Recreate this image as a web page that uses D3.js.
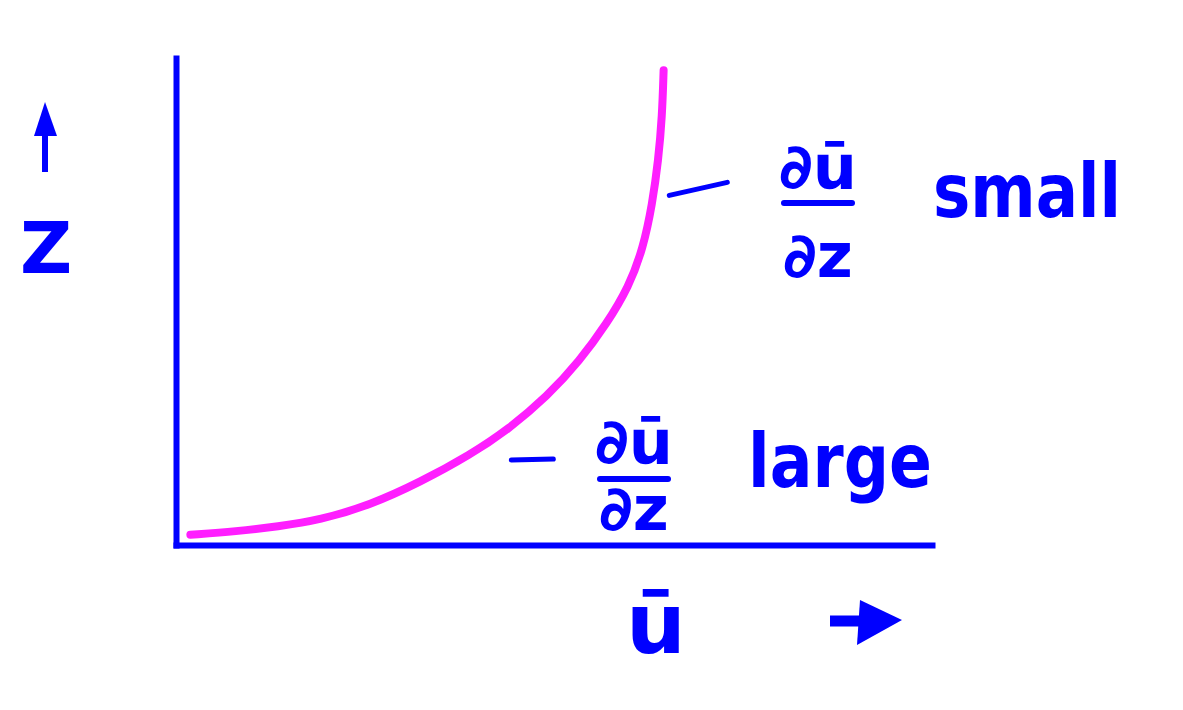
<!DOCTYPE html>
<html>
<head>
<meta charset="utf-8">
<script src="https://cdn.jsdelivr.net/npm/d3@7"></script>
<style>
  html, body { margin: 0; padding: 0; background: #fff; }
  svg { display: block; }
  text { font-family: "DejaVu Sans", sans-serif; font-weight: bold; fill: #0000ff; }
</style>
</head>
<body>
<svg id="chart" width="1183" height="710"></svg>
<script>
// ---- data ----
const profileU = [1.9, 8.0, 13.5, 19.0, 25.7, 32.3, 38.9, 44.0, 49.1, 53.4, 57.0, 59.9, 61.8, 63.0, 63.8, 64.3, 64.5];
const profileZ = [2.1, 2.8, 3.8, 5.1, 8.2, 12.9, 18.5, 23.8, 30.5, 37.8, 45.5, 53.0, 61.0, 70.0, 79.0, 88.0, 97.5];
const xLabel = "ū";
const yLabel = "Z";
const upperNote = {num: "∂ū", den: "∂z", word: "small", u: 63.4, z: 72};
const lowerNote = {num: "∂ū", den: "∂z", word: "large", u: 43.3, z: 16};

const svg = d3.select("#chart");
const blue = "#0000ff", magenta = "#ff1eff";

const x = d3.scaleLinear().domain([0, 100]).range([176, 932]);
const y = d3.scaleLinear().domain([0, 100]).range([545, 58]);

// axes (no ticks, drawn as thick hand-drawn lines)
const xAxis = svg.append("g").attr("transform", `translate(0,${y(0)})`)
  .call(d3.axisBottom(x).tickValues([]).tickSizeOuter(0));
const yAxis = svg.append("g").attr("transform", `translate(${x(0)},0)`)
  .call(d3.axisLeft(y).tickValues([]).tickSizeOuter(0));
[xAxis, yAxis].forEach(g => g.select(".domain")
  .attr("stroke", blue).attr("stroke-width", 6).attr("stroke-linecap", "square"));

// profile curve
const pts = profileU.map((u, i) => [u, profileZ[i]]);
svg.append("path")
  .datum(pts)
  .attr("fill", "none")
  .attr("stroke", magenta)
  .attr("stroke-width", 8)
  .attr("stroke-linecap", "round")
  .attr("d", d3.line().x(d => x(d[0])).y(d => y(d[1])).curve(d3.curveBasis));

// axis labels + arrows
svg.append("text").attr("x", 46).attr("y", 273).attr("text-anchor", "middle")
  .attr("font-size", 72).text(yLabel);
svg.append("path").attr("d", "M45,172 L45,112")
  .attr("stroke", blue).attr("stroke-width", 6).attr("fill", "none");
svg.append("path").attr("d", "M34,136 L45,102 L57,136 Z").attr("fill", blue);

svg.append("text").attr("x", 656).attr("y", 653).attr("text-anchor", "middle")
  .attr("font-size", 84).text(xLabel);
svg.append("path").attr("d", "M830,621 L876,621")
  .attr("stroke", blue).attr("stroke-width", 11).attr("fill", "none");
svg.append("path").attr("d", "M860,600 L902,620 L857,645 Z").attr("fill", blue);

// annotations
function note(n, cx, numBase, barY, denBase, halfW, wordX, wordBase, wordW, lead) {
  svg.append("path").attr("d", lead)
    .attr("stroke", blue).attr("stroke-width", 5).attr("fill", "none").attr("stroke-linecap", "round");
  svg.append("text").attr("x", cx).attr("y", numBase).attr("text-anchor", "middle")
    .attr("font-size", 62).text(n.num);
  svg.append("line").attr("x1", cx - halfW).attr("x2", cx + halfW).attr("y1", barY).attr("y2", barY)
    .attr("stroke", blue).attr("stroke-width", 6).attr("stroke-linecap", "round");
  svg.append("text").attr("x", cx).attr("y", denBase).attr("text-anchor", "middle")
    .attr("font-size", 62).text(n.den);
  svg.append("text").attr("x", wordX).attr("y", wordBase)
    .attr("font-size", 74).attr("textLength", wordW).attr("lengthAdjust", "spacingAndGlyphs")
    .text(n.word);
}
note(upperNote, 818, 188, 203, 277, 34, 933, 217, 188,
  `M${x(upperNote.u) + 14},${y(upperNote.z) + 1} L${x(upperNote.u) + 72},${y(upperNote.z) - 12}`);
note(lowerNote, 634, 463, 479, 530, 34, 748, 487, 184,
  `M${x(lowerNote.u) + 8},${y(lowerNote.z) - 7} L${x(lowerNote.u) + 50},${y(lowerNote.z) - 8}`);
</script>
</body>
</html>
